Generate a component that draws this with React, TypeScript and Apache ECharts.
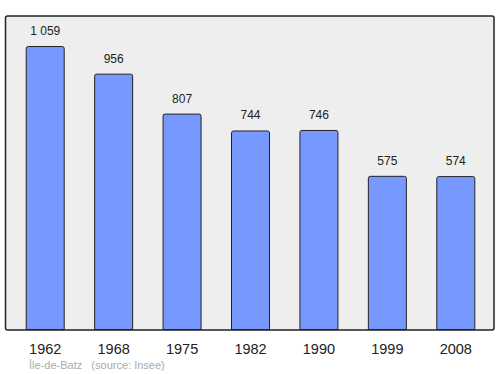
import React, { useEffect, useRef } from "react";
import * as echarts from "echarts";

const categories = ["1962", "1968", "1975", "1982", "1990", "1999", "2008"];
const population = [1059, 956, 807, 744, 746, 575, 574];
const footerPlace = "Île-de-Batz";
const footerSource = "(source: Insee)";

function fmt(v: number): string {
  const s = String(v);
  return s.length > 3 ? s.slice(0, s.length - 3) + " " + s.slice(-3) : s;
}

export default function App() {
  const ref = useRef<HTMLDivElement>(null);
  useEffect(() => {
    if (!ref.current) return;
    const chart = echarts.init(ref.current, null, { renderer: "svg" });
    const font = "Liberation Sans";
    chart.setOption({
      animation: false,
      backgroundColor: "#ffffff",
      textStyle: { fontFamily: font },
      graphic: [
        {
          type: "rect",
          z: -10,
          shape: { x: 5.5, y: 16, width: 488.5, height: 314, r: 2 },
          style: { fill: "#eeeeee", stroke: "#222222", lineWidth: 1.5 },
        },
        {
          type: "text",
          x: 29,
          y: 359,
          style: {
            text: footerPlace + "   " + footerSource,
            fill: "#aaaaaa",
            fontSize: 11,
            fontFamily: font,
          },
        },
      ],
      grid: { left: 11, right: 10, top: 16, bottom: 44, containLabel: false },
      xAxis: {
        type: "category",
        data: categories,
        axisLine: { show: false },
        axisTick: { show: false },
        axisLabel: { fontSize: 14.5, color: "#222222", margin: 11, fontFamily: font },
      },
      yAxis: {
        type: "value",
        min: 0,
        max: 1171,
        show: false,
        splitLine: { show: false },
      },
      series: [
        {
          type: "bar",
          data: population,
          barWidth: 39,
          itemStyle: {
            color: "#7799ff",
            borderColor: "#222222",
            borderWidth: 1,
            borderRadius: [2, 2, 0, 0],
          },
          label: {
            show: true,
            position: "top",
            distance: 9,
            fontSize: 12,
            color: "#222222",
            fontFamily: font,
            formatter: (p: any) => fmt(p.value),
          },
        },
      ],
    });
    return () => chart.dispose();
  }, []);
  return (
    <div
      ref={ref}
      style={{ position: "absolute", left: 0, top: 0, width: 500, height: 374 }}
    />
  );
}
